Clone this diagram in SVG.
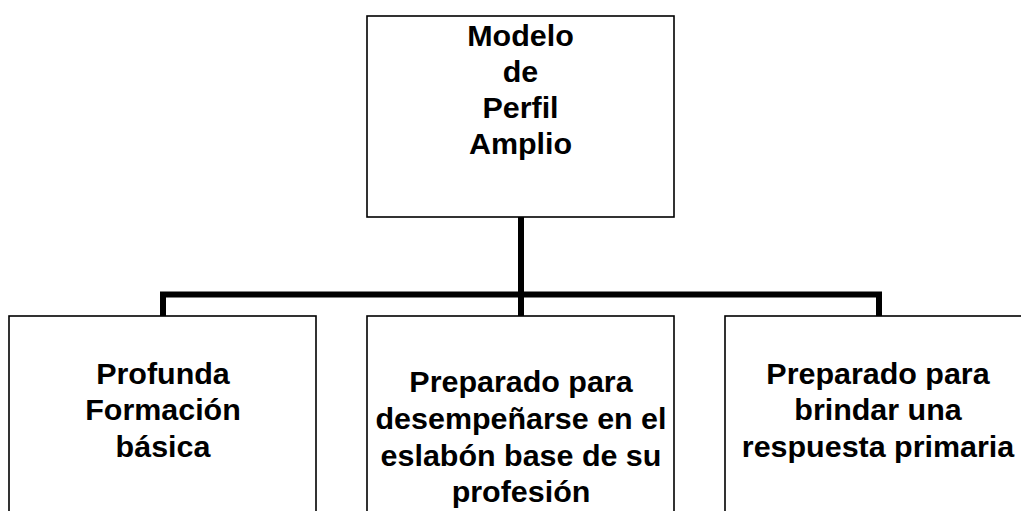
<svg xmlns="http://www.w3.org/2000/svg" width="1021" height="511" viewBox="0 0 1021 511">
<style>
.box{fill:#fff;stroke:#000;stroke-width:1.6}
.lbl{font-family:"Liberation Sans",Arial,sans-serif;font-weight:bold;font-size:29px;fill:#000;text-anchor:middle}
.conn{fill:none;stroke:#000;stroke-width:6;stroke-linejoin:miter}
</style>
<rect width="1021" height="511" fill="#fff"/>
<g id="connectors">
<path class="conn" d="M521,217 V316"/>
<path class="conn" d="M163,316 V294.5 H879 V316"/>
</g>
<g id="root">
<rect class="box" x="367" y="16" width="307" height="201"/>
<text class="lbl" transform="translate(520.5,0) scale(1.05,1)"><tspan x="0" y="46">Modelo</tspan><tspan x="0" y="82.5">de</tspan><tspan x="0" y="118.5">Perfil</tspan><tspan x="0" y="154.5">Amplio</tspan></text>
</g>
<g id="node-left">
<rect class="box" x="9" y="316" width="307" height="210"/>
<text class="lbl" transform="translate(163,0) scale(1.05,1)"><tspan x="0" y="384">Profunda</tspan><tspan x="0" y="420.5">Formación</tspan><tspan x="0" y="457">básica</tspan></text>
</g>
<g id="node-middle">
<rect class="box" x="367" y="316" width="307" height="210"/>
<text class="lbl" transform="translate(521,0) scale(1.05,1)"><tspan x="0" y="392.5">Preparado para</tspan><tspan x="0" y="429">desempeñarse en el</tspan><tspan x="0" y="466">eslabón base de su</tspan><tspan x="0" y="502.5">profesión</tspan></text>
</g>
<g id="node-right">
<rect class="box" x="725" y="316" width="307" height="210"/>
<text class="lbl" transform="translate(878,0) scale(1.05,1)"><tspan x="0" y="384.5">Preparado para</tspan><tspan x="0" y="420.5">brindar una</tspan><tspan x="0" y="457">respuesta primaria</tspan></text>
</g>
</svg>
